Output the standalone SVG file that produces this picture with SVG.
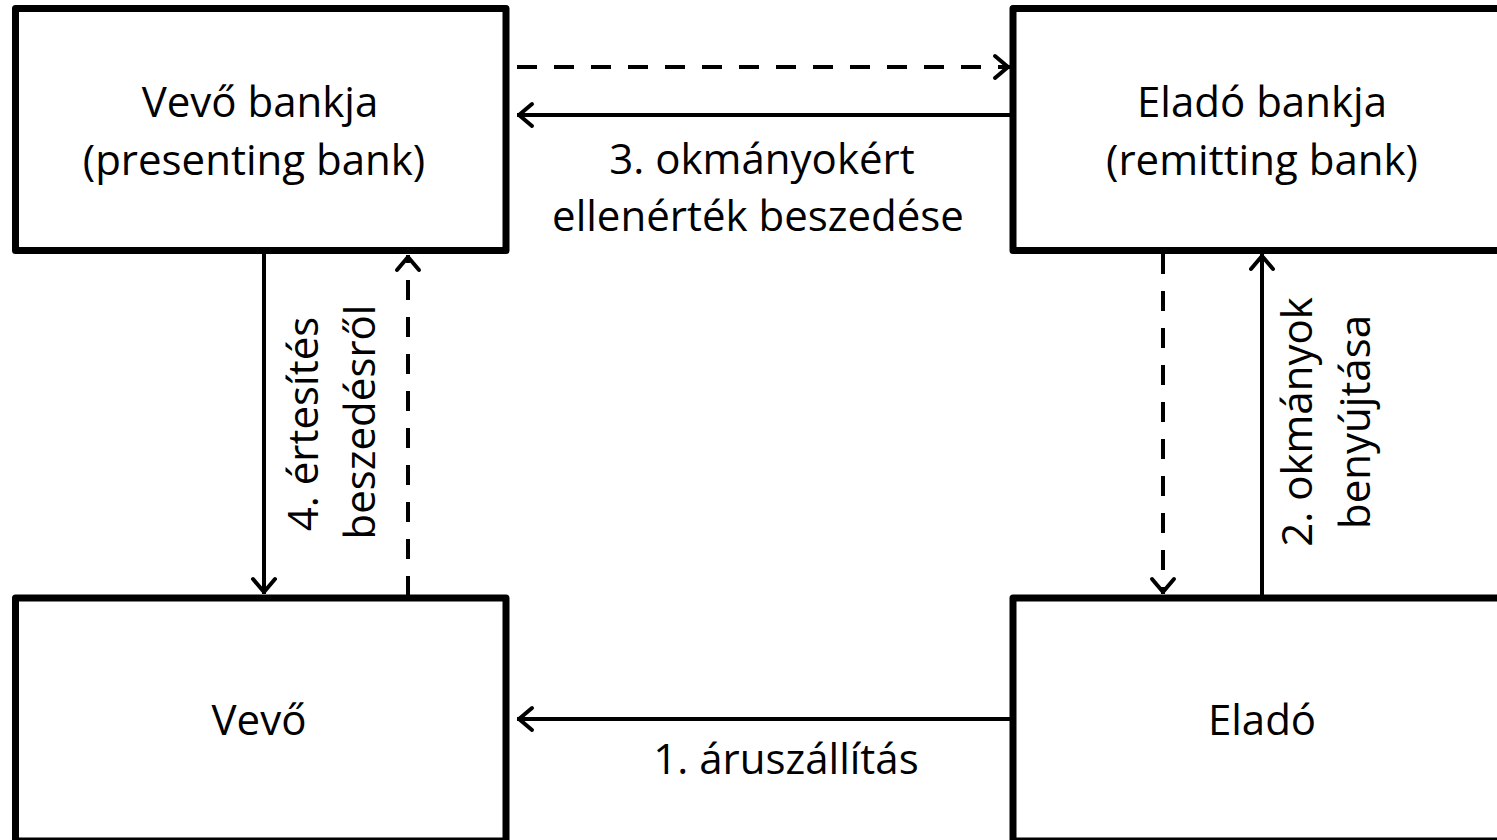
<svg xmlns="http://www.w3.org/2000/svg" width="1497" height="840" viewBox="0 0 1497 840">
  <style>
    .box { fill: #ffffff; stroke: #000000; stroke-width: 7; stroke-linejoin: round; }
    .lbl { font-family: "Open Sans", "Noto Sans", "Liberation Sans", sans-serif; font-size: 42px; fill: #000000; text-anchor: middle; }
    .link { fill: none; stroke: #000000; stroke-width: 4; }
    .dash { stroke-dasharray: 20 17; }
  </style>
  <defs>
    <marker id="chev" markerUnits="userSpaceOnUse" viewBox="-20 -20 40 40" markerWidth="40" markerHeight="40" refX="0" refY="0" orient="auto" overflow="visible">
      <path d="M-15,-11 L-2,0 L-15,11" fill="none" stroke="#000000" stroke-width="4" stroke-linejoin="round" stroke-linecap="round"/>
    </marker>
  </defs>

  <rect width="1497" height="840" fill="#ffffff"/>

  <!-- connectors -->
  <g id="connectors">
    <!-- top pair between the banks -->
    <line class="link dash" x1="517" y1="67" x2="1010" y2="67" marker-end="url(#chev)"/>
    <line class="link" x1="1010" y1="115" x2="517" y2="115" marker-end="url(#chev)"/>
    <!-- left pair: presenting bank / buyer -->
    <line class="link" x1="264" y1="254" x2="264" y2="594" marker-end="url(#chev)"/>
    <line class="link dash" x1="408" y1="596" x2="408" y2="255" marker-end="url(#chev)"/>
    <!-- right pair: remitting bank / seller -->
    <line class="link dash" x1="1163" y1="254" x2="1163" y2="594" marker-end="url(#chev)"/>
    <line class="link" x1="1262" y1="596" x2="1262" y2="254" marker-end="url(#chev)"/>
    <!-- bottom: seller to buyer -->
    <line class="link" x1="1010" y1="719" x2="517" y2="719" marker-end="url(#chev)"/>

    <text class="lbl" x="762" y="174">3. okmányokért</text>
    <text class="lbl" x="758" y="231">ellenérték beszedése</text>
    <text class="lbl" x="786" y="774">1. áruszállítás</text>

    <text class="lbl" transform="translate(318,424) rotate(-90)">4. értesítés</text>
    <text class="lbl" transform="translate(375,422) rotate(-90)">beszedésről</text>
    <text class="lbl" transform="translate(1312,422) rotate(-90)">2. okmányok</text>
    <text class="lbl" transform="translate(1370,422) rotate(-90)">benyújtása</text>
  </g>

  <!-- nodes -->
  <g id="vevo-bankja">
    <rect class="box" x="15.5" y="8.5" width="490.5" height="242"/>
    <text class="lbl" x="260" y="117">Vevő bankja</text>
    <text class="lbl" x="254" y="175">(presenting bank)</text>
  </g>
  <g id="elado-bankja">
    <rect class="box" x="1013" y="8.5" width="498" height="242"/>
    <text class="lbl" x="1262" y="117">Eladó bankja</text>
    <text class="lbl" x="1262" y="175">(remitting bank)</text>
  </g>
  <g id="vevo">
    <rect class="box" x="15.5" y="598" width="490.5" height="243"/>
    <text class="lbl" x="259" y="735">Vevő</text>
  </g>
  <g id="elado">
    <rect class="box" x="1013" y="598" width="498" height="243"/>
    <text class="lbl" x="1262" y="735">Eladó</text>
  </g>
</svg>
